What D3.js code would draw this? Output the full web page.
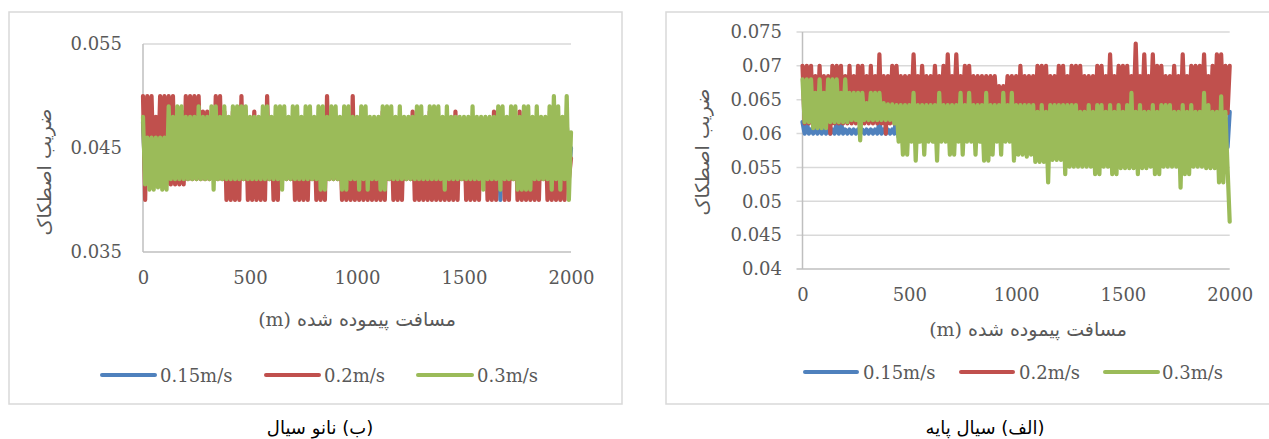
<!DOCTYPE html>
<html><head><meta charset="utf-8">
<script src="https://cdn.jsdelivr.net/npm/d3@7"></script>
<style>body{margin:0;background:#fff;overflow:hidden}svg{display:block}</style>
</head><body>
<svg id="chart" width="1269" height="439"></svg>
<script>
// ---------- data ----------
const seriesNames = ["0.15m/s", "0.2m/s", "0.3m/s"];
const seriesColors = ["#4f81bd", "#c0504d", "#9bbb59"];
const xTicks = [0, 500, 1000, 1500, 2000];
const nanoYTicks = [0.035, 0.045, 0.055];
const nanoYLabels = ["0.035", "0.045", "0.055"];
const baseYTicks = [0.04, 0.045, 0.05, 0.055, 0.06, 0.065, 0.07, 0.075];
const baseYLabels = ["0.04", "0.045", "0.05", "0.055", "0.06", "0.065", "0.07", "0.075"];
const xTitle = "مسافت پیموده شده (m)";
const yTitle = "ضریب اصطکاک";
const nanoCaption = "(ب)  نانو سیال";
const baseCaption = "(الف) سیال پایه";
// samples every 10 m, 0..2000 m

// (ب) nano fluid
const nanoBlue = [
0.0475,0.0425,0.047,0.043,0.0475,0.0425,0.047,0.043,0.0475,0.0425,0.0475,0.043,0.047,0.0425,0.0475,0.0425,0.047,0.043,0.0475,0.0425,
0.0475,0.043,0.047,0.0425,0.0475,0.0425,0.047,0.043,0.0475,0.0425,0.0475,0.043,0.047,0.0425,0.0475,0.0425,0.047,0.043,0.0475,0.0425,
0.0475,0.0425,0.047,0.043,0.0475,0.0425,0.047,0.043,0.0475,0.0425,0.0475,0.043,0.047,0.0425,0.0475,0.0425,0.047,0.043,0.0475,0.0425,
0.0475,0.043,0.047,0.0425,0.0475,0.0425,0.047,0.043,0.0475,0.0425,0.0475,0.043,0.047,0.0425,0.0475,0.0425,0.047,0.043,0.0475,0.0425,
0.0475,0.0425,0.047,0.043,0.0475,0.0425,0.047,0.043,0.0475,0.0425,0.0475,0.043,0.047,0.0425,0.0475,0.0425,0.047,0.043,0.0475,0.0425,
0.0475,0.043,0.047,0.0425,0.0475,0.0425,0.047,0.043,0.0475,0.0425,0.0475,0.043,0.047,0.0425,0.0475,0.0425,0.047,0.043,0.0475,0.0425,
0.0475,0.0425,0.047,0.043,0.0475,0.0425,0.047,0.043,0.0475,0.0425,0.0475,0.043,0.047,0.0425,0.0475,0.0425,0.047,0.043,0.0475,0.0425,
0.0475,0.043,0.047,0.0425,0.0475,0.0425,0.047,0.043,0.0475,0.0425,0.0475,0.043,0.047,0.0425,0.0475,0.0425,0.047,0.043,0.0475,0.0425,
0.0475,0.0425,0.047,0.043,0.0475,0.0425,0.047,0.040,0.0475,0.0425,0.0475,0.043,0.047,0.0425,0.0475,0.0425,0.047,0.043,0.0475,0.0425,
0.0475,0.043,0.047,0.0425,0.0475,0.0425,0.047,0.043,0.0475,0.0425,0.0475,0.043,0.047,0.0425,0.0475,0.0425,0.047,0.043,0.0475,0.0425,
0.045];
const nanoRed = [
0.050,0.040,0.050,0.0425,0.050,0.0425,0.048,0.0425,0.050,0.0415,0.050,0.0415,0.050,0.0415,0.050,0.0415,0.0485,0.0415,0.0485,0.0415,
0.050,0.042,0.050,0.042,0.050,0.042,0.050,0.042,0.0485,0.042,0.0485,0.042,0.0475,0.042,0.050,0.042,0.050,0.042,0.0485,0.040,
0.0475,0.040,0.0485,0.040,0.0485,0.040,0.050,0.042,0.0485,0.040,0.0475,0.040,0.0485,0.040,0.0475,0.040,0.0475,0.040,0.050,0.042,
0.0475,0.040,0.0475,0.040,0.0475,0.042,0.0475,0.042,0.0475,0.042,0.0475,0.040,0.0475,0.040,0.0475,0.040,0.0475,0.040,0.0475,0.042,
0.0475,0.040,0.0475,0.040,0.0475,0.040,0.050,0.042,0.0475,0.042,0.0475,0.042,0.0475,0.040,0.0475,0.040,0.0475,0.040,0.050,0.040,
0.0475,0.040,0.0475,0.040,0.0475,0.040,0.0475,0.040,0.0475,0.040,0.0475,0.040,0.0485,0.040,0.0475,0.042,0.0475,0.040,0.0475,0.040,
0.0475,0.040,0.0475,0.042,0.0475,0.042,0.0485,0.040,0.0475,0.040,0.0475,0.040,0.0475,0.040,0.0485,0.040,0.0475,0.040,0.0475,0.040,
0.0475,0.040,0.0475,0.040,0.0475,0.040,0.0485,0.040,0.0475,0.042,0.0475,0.040,0.0475,0.040,0.0475,0.040,0.0475,0.040,0.0475,0.042,
0.0475,0.040,0.0475,0.040,0.0485,0.040,0.0475,0.042,0.0475,0.040,0.0475,0.040,0.0475,0.042,0.0475,0.040,0.0485,0.040,0.0475,0.040,
0.0475,0.040,0.0475,0.040,0.0475,0.040,0.0475,0.042,0.0475,0.040,0.0475,0.040,0.0475,0.040,0.0475,0.040,0.0475,0.040,0.0475,0.042,
0.044];
const nanoGreen = [
0.048,0.0415,0.046,0.041,0.046,0.041,0.046,0.0412,0.046,0.041,0.046,0.041,0.049,0.042,0.048,0.042,0.049,0.042,0.049,0.042,
0.048,0.042,0.048,0.042,0.048,0.042,0.049,0.042,0.048,0.042,0.048,0.042,0.049,0.041,0.049,0.042,0.048,0.042,0.049,0.042,
0.048,0.042,0.049,0.042,0.049,0.042,0.049,0.042,0.049,0.042,0.048,0.042,0.048,0.042,0.048,0.042,0.049,0.042,0.049,0.042,
0.048,0.042,0.049,0.042,0.049,0.041,0.049,0.042,0.048,0.042,0.049,0.042,0.049,0.042,0.048,0.042,0.049,0.042,0.049,0.042,
0.048,0.042,0.049,0.041,0.049,0.041,0.048,0.042,0.049,0.042,0.049,0.042,0.048,0.041,0.049,0.041,0.049,0.042,0.048,0.042,
0.048,0.041,0.049,0.042,0.049,0.041,0.048,0.042,0.048,0.042,0.048,0.041,0.049,0.041,0.049,0.042,0.049,0.042,0.048,0.042,
0.049,0.042,0.048,0.042,0.048,0.042,0.048,0.042,0.049,0.042,0.049,0.042,0.048,0.042,0.049,0.042,0.049,0.042,0.049,0.042,
0.048,0.041,0.049,0.042,0.048,0.042,0.048,0.042,0.048,0.042,0.048,0.042,0.048,0.042,0.049,0.042,0.048,0.042,0.048,0.041,
0.048,0.042,0.048,0.042,0.048,0.042,0.049,0.041,0.049,0.042,0.048,0.042,0.049,0.042,0.049,0.041,0.048,0.041,0.049,0.041,
0.049,0.041,0.048,0.042,0.049,0.042,0.048,0.042,0.048,0.042,0.049,0.041,0.050,0.042,0.049,0.041,0.048,0.042,0.050,0.040,
0.0465];

// (الف) base fluid
const baseBlue = [
0.0617,0.060,0.0617,0.060,0.0606,0.060,0.0606,0.060,0.0606,0.060,0.0606,0.060,0.0606,0.060,0.0606,0.060,0.0617,0.060,0.0617,0.060,
0.0606,0.060,0.0606,0.060,0.0606,0.060,0.0606,0.060,0.0606,0.060,0.0606,0.060,0.0606,0.060,0.0606,0.060,0.0617,0.060,0.0606,0.060,
0.0606,0.060,0.0606,0.060,0.063,0.0595,0.063,0.0595,0.0628,0.0595,0.063,0.0595,0.0628,0.0595,0.063,0.0595,0.0628,0.0595,0.063,0.0595,
0.063,0.0595,0.0628,0.0595,0.063,0.0595,0.0628,0.0595,0.063,0.0595,0.063,0.0595,0.0628,0.0595,0.063,0.0595,0.0628,0.0595,0.063,0.0595,
0.063,0.0595,0.0628,0.0595,0.063,0.0595,0.0628,0.0595,0.063,0.0595,0.063,0.0595,0.0628,0.0595,0.063,0.0595,0.0628,0.0595,0.063,0.0595,
0.0625,0.0575,0.0622,0.058,0.0625,0.0575,0.0622,0.058,0.0625,0.0575,0.0622,0.058,0.0625,0.0575,0.0622,0.058,0.0625,0.0575,0.0622,0.058,
0.0625,0.0575,0.0622,0.058,0.0625,0.0575,0.0622,0.058,0.0625,0.0575,0.0622,0.058,0.0625,0.0575,0.0622,0.058,0.0625,0.0575,0.0622,0.058,
0.0625,0.0575,0.0622,0.058,0.0625,0.0575,0.0622,0.058,0.0625,0.0575,0.0622,0.058,0.0625,0.0575,0.0622,0.058,0.0625,0.0575,0.0622,0.058,
0.0625,0.0575,0.0622,0.058,0.0625,0.0575,0.0622,0.058,0.0625,0.0575,0.0622,0.058,0.0625,0.0575,0.0622,0.058,0.0625,0.0575,0.0622,0.058,
0.0625,0.0575,0.0622,0.058,0.0625,0.0575,0.0622,0.058,0.0625,0.0575,0.0622,0.058,0.0625,0.0575,0.0622,0.058,0.0625,0.0575,0.0622,0.058,
0.0632];
const baseRed = [
0.070,0.0615,0.070,0.0615,0.070,0.0615,0.0685,0.0615,0.070,0.0615,0.0685,0.0615,0.0685,0.060,0.070,0.0615,0.070,0.0615,0.070,0.0615,
0.0685,0.0615,0.070,0.0615,0.0685,0.0615,0.070,0.0615,0.070,0.0615,0.0685,0.0615,0.070,0.0615,0.0685,0.0615,0.0717,0.0615,0.0685,0.060,
0.0685,0.0615,0.070,0.0615,0.070,0.0635,0.0685,0.0635,0.0685,0.0635,0.0685,0.0635,0.0717,0.0635,0.0685,0.0635,0.070,0.0635,0.0685,0.0635,
0.0685,0.0635,0.070,0.0635,0.0685,0.0635,0.070,0.0635,0.0717,0.0635,0.0685,0.0635,0.0717,0.0635,0.0685,0.0635,0.070,0.0635,0.070,0.0635,
0.0685,0.0635,0.0685,0.0635,0.0685,0.0635,0.0685,0.0635,0.0685,0.0635,0.0685,0.0635,0.067,0.0635,0.067,0.0635,0.0685,0.0635,0.0685,0.0635,
0.0685,0.0583,0.070,0.063,0.0685,0.063,0.0685,0.063,0.0685,0.063,0.070,0.063,0.070,0.063,0.070,0.063,0.0685,0.063,0.0685,0.063,
0.070,0.063,0.070,0.063,0.0685,0.063,0.070,0.063,0.070,0.063,0.070,0.063,0.0685,0.063,0.0685,0.063,0.0685,0.0615,0.070,0.063,
0.070,0.063,0.0685,0.063,0.0717,0.063,0.0685,0.063,0.070,0.063,0.070,0.063,0.070,0.063,0.0685,0.063,0.0733,0.063,0.0685,0.063,
0.0717,0.063,0.0685,0.063,0.0717,0.063,0.070,0.063,0.070,0.063,0.0685,0.063,0.0685,0.063,0.070,0.063,0.0685,0.0615,0.0717,0.063,
0.0685,0.063,0.070,0.063,0.070,0.063,0.070,0.063,0.0717,0.063,0.0685,0.063,0.070,0.063,0.0717,0.063,0.0717,0.063,0.070,0.063,
0.070];
const baseGreen = [
0.068,0.0617,0.068,0.0617,0.068,0.0608,0.066,0.0608,0.068,0.0608,0.066,0.0608,0.068,0.0617,0.068,0.0617,0.068,0.0617,0.066,0.0617,
0.068,0.0617,0.066,0.062,0.066,0.062,0.066,0.059,0.066,0.062,0.0645,0.062,0.066,0.062,0.066,0.062,0.066,0.062,0.0645,0.062,
0.0643,0.062,0.0643,0.0615,0.0642,0.0588,0.0642,0.0569,0.0642,0.0569,0.0642,0.0588,0.066,0.056,0.0642,0.0588,0.0642,0.0569,0.0642,0.0588,
0.0642,0.0588,0.0642,0.056,0.066,0.0588,0.0642,0.0588,0.0642,0.0569,0.0642,0.0569,0.0642,0.0588,0.066,0.0569,0.0642,0.0588,0.066,0.0588,
0.0642,0.0569,0.0642,0.0588,0.0642,0.056,0.066,0.056,0.0642,0.0569,0.0642,0.0588,0.0642,0.0569,0.066,0.0588,0.0642,0.0588,0.066,0.056,
0.0642,0.0569,0.0642,0.0569,0.0642,0.0566,0.0642,0.0569,0.0642,0.0558,0.0632,0.0558,0.0642,0.0558,0.0632,0.0528,0.0642,0.0561,0.0642,0.0561,
0.0642,0.0561,0.0642,0.054,0.0642,0.0551,0.0642,0.0551,0.0642,0.0551,0.0632,0.0551,0.0632,0.0551,0.0642,0.0551,0.0632,0.054,0.0642,0.054,
0.0642,0.0551,0.0632,0.0551,0.0642,0.054,0.0632,0.054,0.0642,0.0549,0.0632,0.0549,0.0642,0.0549,0.066,0.0549,0.0632,0.054,0.0642,0.0549,
0.0632,0.0549,0.0632,0.0551,0.0642,0.054,0.0632,0.054,0.0642,0.0551,0.0642,0.0551,0.0642,0.0551,0.0632,0.0551,0.0632,0.052,0.0642,0.054,
0.0632,0.054,0.0642,0.0551,0.0632,0.0551,0.0632,0.0551,0.066,0.0549,0.0642,0.0549,0.0632,0.0549,0.0632,0.0528,0.0655,0.0528,0.0632,0.0549,
0.047];

// ---------- drawing ----------
const svg = d3.select("#chart");
const numFont = "'DejaVu Serif', serif";
const arFont = "'DejaVu Sans', sans-serif";
const mixFont = "'DejaVu Serif', 'DejaVu Sans', serif";
const textGrey = "#595959";

function drawPanel(p) {
  const g = svg.append("g");
  g.append("rect").attr("x", p.box[0]).attr("y", p.box[1]).attr("width", p.box[2]).attr("height", p.box[3])
    .attr("fill", "#fff").attr("stroke", "#d9d9d9").attr("stroke-width", 1.5);

  const x = d3.scaleLinear().domain([0, 2000]).range([p.x0, p.x1]);
  const y = d3.scaleLinear().domain([p.yTicks[0], p.yTicks[p.yTicks.length - 1]]).range([p.yB, p.yT]);

  // gridlines
  g.selectAll(".grid").data(p.yTicks.slice(1)).join("line")
    .attr("x1", p.x0 - p.tickOut).attr("x2", p.x1)
    .attr("y1", d => y(d)).attr("y2", d => y(d))
    .attr("stroke", "#d9d9d9").attr("stroke-width", 1.5);
  // x axis line
  g.append("line").attr("x1", p.x0 - p.tickOut).attr("x2", p.x1).attr("y1", y(p.yTicks[0])).attr("y2", y(p.yTicks[0]))
    .attr("stroke", "#bfbfbf").attr("stroke-width", 1.5);
  // y axis line
  g.append("line").attr("x1", p.x0).attr("x2", p.x0).attr("y1", p.yT).attr("y2", p.yB)
    .attr("stroke", "#bfbfbf").attr("stroke-width", 1.5);

  // y tick labels via axis
  const ya = g.append("g").attr("transform", `translate(${p.x0},0)`)
    .call(d3.axisLeft(y).tickValues(p.yTicks).tickSize(0).tickPadding(p.yPad)
      .tickFormat((d, i) => p.yLabels[i]));
  ya.select(".domain").remove();
  ya.selectAll("text").attr("font-family", numFont).attr("font-size", 18).attr("fill", textGrey);

  // x tick labels via axis
  const xa = g.append("g").attr("transform", `translate(0,${p.yB})`)
    .call(d3.axisBottom(x).tickValues(xTicks).tickSize(0).tickPadding(p.xPad).tickFormat(d3.format("d")));
  xa.select(".domain").remove();
  xa.selectAll("text").attr("font-family", numFont).attr("font-size", 18).attr("fill", textGrey);

  // series
  const line = d3.line().x((d, i) => x(i * 10)).y(d => y(d));
  p.series.forEach((s, i) => {
    g.append("path").datum(s).attr("d", line).attr("fill", "none")
      .attr("stroke", seriesColors[i]).attr("stroke-width", 4.2)
      .attr("stroke-linejoin", "round").attr("stroke-linecap", "round");
  });

  // axis titles
  g.append("text").attr("x", p.xTitle[0]).attr("y", p.xTitle[1]).attr("text-anchor", "middle")
    .attr("direction", "rtl").attr("font-family", mixFont).attr("font-size", 19)
    .attr("fill", textGrey).text(xTitle);
  g.append("text").attr("transform", `translate(${p.yTitle[0]},${p.yTitle[1]}) rotate(-90)`)
    .attr("text-anchor", "middle").attr("direction", "rtl").attr("dominant-baseline", "middle")
    .attr("font-family", arFont).attr("font-size", 19).attr("fill", textGrey).text(yTitle);

  // legend
  seriesNames.forEach((n, i) => {
    const L = p.legend[i];
    g.append("line").attr("x1", L[0]).attr("x2", L[1]).attr("y1", p.legendY).attr("y2", p.legendY)
      .attr("stroke", seriesColors[i]).attr("stroke-width", 4).attr("stroke-linecap", "round");
    g.append("text").attr("x", L[2]).attr("y", p.legendY + 6.5).attr("font-family", numFont)
      .attr("font-size", 18).attr("fill", textGrey).text(n);
  });

  // caption
  svg.append("text").attr("x", p.caption[0]).attr("y", p.caption[1]).attr("text-anchor", "middle")
    .attr("direction", "rtl").attr("font-family", arFont).attr("font-size", 18).attr("fill", "#000").text(p.captionText);
}

drawPanel({
  box: [9, 12, 613, 392], x0: 143, x1: 571, yT: 44, yB: 252, tickOut: 0,
  yTicks: nanoYTicks, yLabels: nanoYLabels, yPad: 21, xPad: 19,
  series: [nanoBlue, nanoRed, nanoGreen],
  xTitle: [357, 326], yTitle: [45, 172],
  legend: [[102, 155, 160], [266, 319, 324], [418, 472, 477]], legendY: 375,
  caption: [320, 434], captionText: nanoCaption
});
drawPanel({
  box: [666, 12, 620, 392], x0: 802.5, x1: 1229.7, yT: 32, yB: 269, tickOut: 6,
  yTicks: baseYTicks, yLabels: baseYLabels, yPad: 20.5, xPad: 19,
  series: [baseBlue, baseRed, baseGreen],
  xTitle: [1028, 336], yTitle: [703, 152],
  legend: [[805, 857, 863], [961, 1013, 1019], [1105, 1158, 1162]], legendY: 372,
  caption: [985, 434], captionText: baseCaption
});
</script>
</body></html>
